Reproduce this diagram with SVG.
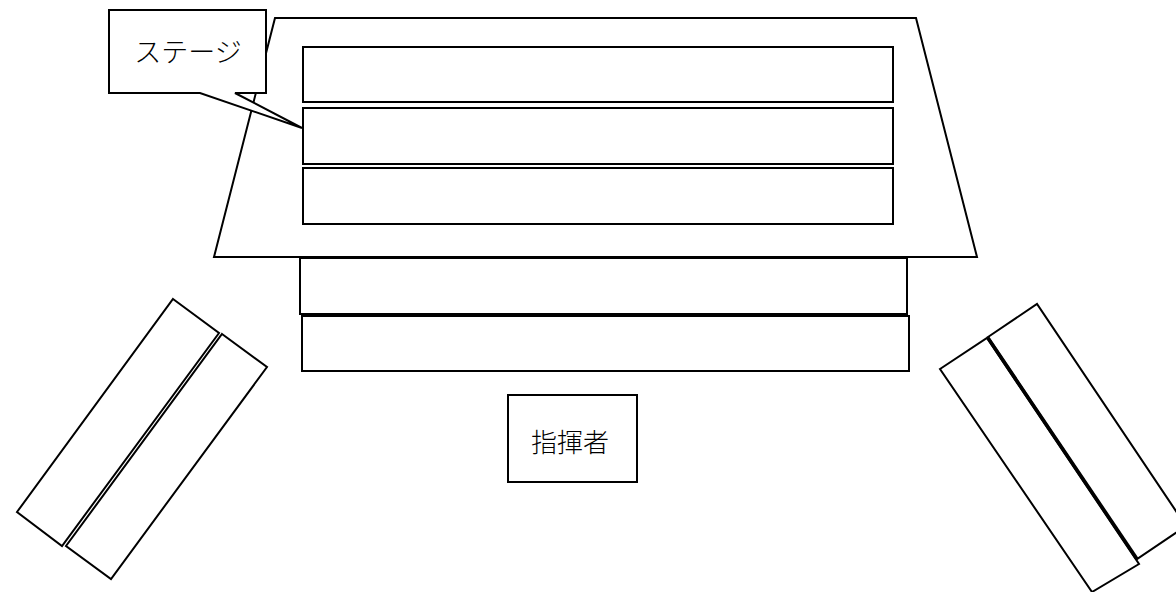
<svg xmlns="http://www.w3.org/2000/svg" width="1176" height="592" viewBox="0 0 1176 592">
<style>
.s{fill:#fff;stroke:#000;stroke-width:2;stroke-linejoin:miter}
.t{font-family:"Noto Sans CJK JP","Noto Sans CJK SC",sans-serif;font-weight:300;fill:#000}
</style>
<rect width="1176" height="592" fill="#fff"/>
<g id="stage">
<polygon class="s" points="275,18 916,18 977,257 214,257"/>
</g>
<g id="row1"><rect class="s" x="303" y="47" width="590" height="55"/></g>
<g id="row2"><rect class="s" x="303" y="108" width="590" height="56"/></g>
<g id="row3"><rect class="s" x="303" y="168" width="590" height="56"/></g>
<g id="row4"><rect class="s" x="300" y="258" width="607" height="56"/></g>
<g id="row5"><rect class="s" x="302" y="316" width="607" height="55"/></g>
<g id="left-a"><polygon class="s" points="173,299 219,333 62,546 17,512"/></g>
<g id="left-b"><polygon class="s" points="222,334 267,367 111,579 66,546"/></g>
<g id="right-a"><polygon class="s" points="940,369 987,338 1139,564 1092,592"/></g>
<g id="right-b"><polygon class="s" points="988,337 1037,304 1186,526 1137,559"/>
<line x1="988" y1="338" x2="1137" y2="559" stroke="#000" stroke-width="3.5"/></g>
<g id="conductor">
<rect class="s" x="508" y="395" width="129" height="87"/>
<text class="t" x="570" y="452" font-size="26" text-anchor="middle">指揮者</text>
</g>
<g id="callout">
<polygon class="s" points="109,10 266,10 266,93 235,93 302,128 200,93 109,93"/>
<text class="t" x="188" y="62" font-size="27" text-anchor="middle">ステージ</text>
</g>
<g id="connectors"></g>
</svg>
